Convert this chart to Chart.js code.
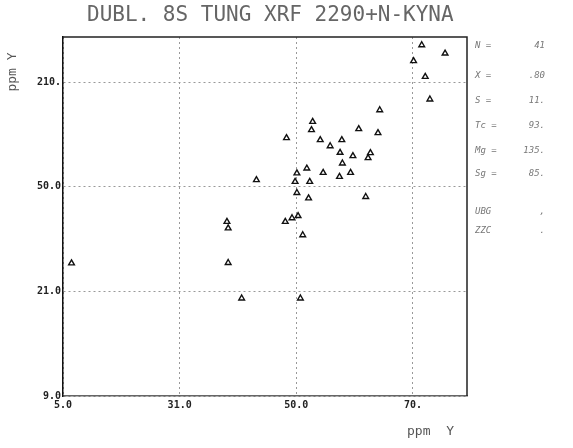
<!DOCTYPE html>
<html>
<head>
<meta charset="utf-8">
<script src="https://cdn.jsdelivr.net/npm/chart.js@4/dist/chart.umd.min.js"></script>
<style>
  html, body { margin: 0; padding: 0; background: #fff; }
  #wrap { width: 573px; height: 448px; }
</style>
</head>
<body>
<div id="wrap"><canvas id="xrfChart" width="573" height="448"></canvas></div>
<script>
// Tick breaks of the plotter axes (ticks are evenly spaced, values are not)
const xBreaks = [5, 31, 50, 70];
const xTickLabels = ['5.0', '31.0', '50.0', '70.'];
const yBreaks = [9, 21, 50, 210];
const yTickLabels = ['9.0', '21.0', '50.0', '210.'];

// Y (ppm) duplicate pairs
const xValues = [71.5, 75.5, 70.1, 72.1, 72.9, 64.3, 52.8, 52.6, 60.7, 64.0,
                 48.4, 54.1, 57.8, 55.8, 57.5, 59.7, 62.7, 62.3, 57.9, 51.8,
                 50.1, 54.6, 59.3, 57.4, 52.3, 49.8, 43.5, 50.1, 52.1, 61.9,
                 38.7, 48.2, 49.3, 50.3, 38.9, 51.1, 38.9, 6.9, 41.1, 50.7];
const yValues = [266.5, 253.8, 242.1, 218.1, 183.6, 167.1, 149.3, 136.6, 138.2, 132.1,
                 124.4, 121.4, 121.4, 112.1, 102.0, 96.9, 101.5, 93.8, 85.7, 78.0,
                 70.5, 71.3, 71.3, 65.2, 57.6, 57.6, 60.2, 48.3, 46.8, 47.2,
                 40.3, 40.3, 41.3, 41.9, 38.5, 36.6, 28.9, 28.8, 20.2, 20.2];

const titleText = 'DUBL. 8S TUNG XRF 2290+N-KYNA';
const statLabels = ['N =', 'X =', 'S =', 'Tc =', 'Mg =', 'Sg =', 'UBG', 'ZZC'];
const statValues = ['41', '.80', '11.', '93.', '135.', '85.', ',', '.'];

// Linear between successive breaks, each break interval gets equal length
class SegmentedScale extends Chart.LinearScale {
    static id = 'segmented';
    static defaults = Chart.LinearScale.defaults;

    buildTicks() {
        return this.options.breaks.map(value => ({ value }));
    }

    toPosition(value) {
        const b = this.options.breaks;
        let i = 0;
        while (i < b.length - 2 && value > b[i + 1]) i++;
        return i + (value - b[i]) / (b[i + 1] - b[i]);
    }

    fromPosition(pos) {
        const b = this.options.breaks;
        const i = Math.max(0, Math.min(b.length - 2, Math.floor(pos)));
        return b[i] + (pos - i) * (b[i + 1] - b[i]);
    }

    getPixelForValue(value) {
        const lo = this.toPosition(this.min);
        const hi = this.toPosition(this.max);
        return this.getPixelForDecimal((this.toPosition(value) - lo) / (hi - lo));
    }

    getValueForPixel(pixel) {
        const lo = this.toPosition(this.min);
        const hi = this.toPosition(this.max);
        return this.fromPosition(lo + this.getDecimalForPixel(pixel) * (hi - lo));
    }
}
Chart.register(SegmentedScale);

const points = xValues.map((x, i) => ({ x, y: yValues[i] }));

const gridStyle = {
    color: '#999',
    lineWidth: 1,
    drawTicks: false
};

// Frame, title and annotation text in the plotter style
const plotterText = {
    id: 'plotterText',
    afterDraw(chart) {
        const { ctx, chartArea: a } = chart;
        ctx.save();

        ctx.strokeStyle = '#222';
        ctx.lineWidth = 1.5;
        ctx.beginPath();
        ctx.moveTo(a.left, a.top);
        ctx.lineTo(a.right, a.top);
        ctx.lineTo(a.right, a.bottom);
        ctx.stroke();

        ctx.fillStyle = '#666';
        ctx.font = '21px "DejaVu Sans Mono"';
        ctx.textAlign = 'left';
        ctx.textBaseline = 'middle';
        ctx.fillText(titleText, 87, 16);

        ctx.font = '13px "DejaVu Sans Mono"';
        ctx.fillStyle = '#555';
        ctx.fillText('ppm  Y', 407, 432);
        ctx.save();
        ctx.translate(13, 72);
        ctx.rotate(-Math.PI / 2);
        ctx.textAlign = 'center';
        ctx.fillText('ppm Y', 0, 0);
        ctx.restore();

        const rowY = [46, 76, 101, 126, 151, 174, 212, 231];
        ctx.font = 'italic 9px "DejaVu Sans Mono"';
        ctx.fillStyle = '#777';
        statLabels.forEach((label, i) => {
            ctx.textAlign = 'left';
            ctx.fillText(label, 475, rowY[i]);
            ctx.textAlign = 'right';
            ctx.fillText(statValues[i], 545, rowY[i]);
        });
        ctx.restore();
    }
};

new Chart(document.getElementById('xrfChart'), {
    type: 'scatter',
    data: {
        datasets: [{
            label: 'Y ppm',
            data: points,
            pointStyle: 'triangle',
            pointRadius: 3.3,
            pointBorderWidth: 1.4,
            pointBorderColor: '#111',
            pointBackgroundColor: '#fff'
        }]
    },
    options: {
        responsive: false,
        animation: false,
        layout: { padding: { top: 37, right: 106, left: 0, bottom: 0 } },
        scales: {
            x: {
                type: 'segmented',
                breaks: xBreaks,
                min: 5,
                max: 79.26,
                grid: { ...gridStyle },
                border: { color: '#666', width: 1.5, dash: [2, 3] },
                ticks: {
                    padding: 3,
                    color: '#222',
                    font: { family: 'DejaVu Sans Mono', size: 10, weight: 'bold' },
                    callback: (v, i) => xTickLabels[i]
                },
                afterFit: scale => { scale.height = 52; }
            },
            y: {
                type: 'segmented',
                breaks: yBreaks,
                min: 9,
                max: 278.8,
                grid: { ...gridStyle },
                border: { color: '#111', width: 1.5, dash: [2, 3] },
                ticks: {
                    padding: 2,
                    color: '#222',
                    font: { family: 'DejaVu Sans Mono', size: 10, weight: 'bold' },
                    callback: (v, i) => yTickLabels[i]
                },
                afterFit: scale => { scale.width = 63; }
            }
        },
        plugins: {
            legend: { display: false },
            tooltip: { enabled: false }
        }
    },
    plugins: [plotterText]
});
</script>
</body>
</html>
